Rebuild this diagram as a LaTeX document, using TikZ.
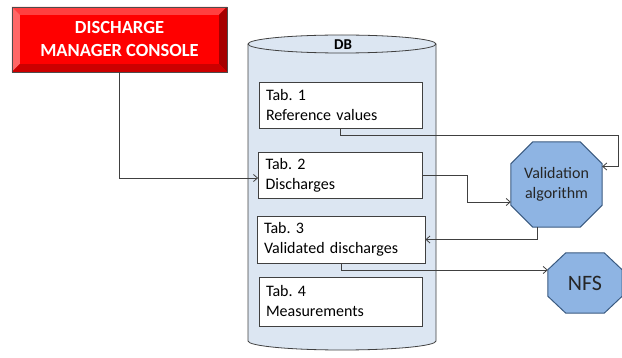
\documentclass[tikz,border=0pt]{standalone}
\usepackage{fontspec}
\setmainfont{Carlito}
\usetikzlibrary{arrows.meta,calc}
\definecolor{dbfill}{HTML}{DCE6F2}
\definecolor{octfill}{HTML}{8EB4E3}
\definecolor{octline}{HTML}{3A5A80}
\definecolor{linec}{HTML}{404040}
\frenchspacing
\begin{document}
\begin{tikzpicture}[x=1pt,y=-1pt,
  tabbox/.style={draw=linec,fill=white,line width=0.8pt,align=left,inner xsep=7pt,font=\fontsize{16}{20}\selectfont},
  conn/.style={draw=linec,line width=0.8pt,-{Straight Barb[length=4pt,width=7pt]}},
  octa/.style={draw=octline,fill=octfill,line width=1pt},
  octtext/.style={align=center,text=black!85},
]
\useasboundingbox (0,0) rectangle (622,358);
% Console with bevel
\node[minimum width=215pt,minimum height=65pt,inner sep=0pt] (con) at (119.5,39.5) {};
\fill[red] (con.north west) rectangle (con.south east);
\fill[red!75!white] (con.north west) -- (con.north east) -- ++(-8,8) -- ($(con.north west)+(8,8)$) -- cycle;
\fill[red!60!white] (con.north west) -- (con.south west) -- ++(8,-8) -- ($(con.north west)+(8,8)$) -- cycle;
\fill[red!65!black] (con.north east) -- (con.south east) -- ++(-8,-8) -- ($(con.north east)+(-8,8)$) -- cycle;
\fill[red!80!black] (con.south west) -- (con.south east) -- ++(-8,-8) -- ($(con.south west)+(8,-8)$) -- cycle;
\draw[gray!60!black,line width=0.5pt] (con.north west) rectangle (con.south east);
\node[text=white,font=\fontsize{18.5}{23}\selectfont\bfseries,align=center] (contxt) at (con.center) {DISCHARGE\\MANAGER CONSOLE};
% Cylinder
\draw[linec,fill=dbfill,line width=0.8pt] (248,44) -- (248,341) arc[start angle=180,end angle=360,x radius=94pt,y radius=9pt] -- (436,44) arc[start angle=0,end angle=180,x radius=94pt,y radius=9pt] -- cycle;
\draw[linec,line width=0.8pt] (248,44) arc[start angle=180,end angle=360,x radius=94pt,y radius=9pt];
\node[font=\fontsize{15}{17}\selectfont\bfseries] (db) at (343,45) {DB};
% Tables
\node[tabbox,minimum width=163pt,minimum height=46pt,text width=149pt] (t1) at (340.5,105) {Tab. 1\\Reference values};
\node[tabbox,minimum width=164pt,minimum height=46pt,text width=150pt] (t2) at (340.5,175) {Tab. 2\\Discharges};
\node[tabbox,minimum width=168pt,minimum height=47pt,text width=154pt] (t3) at (341,239.5) {Tab. 3\\Validated discharges};
\node[tabbox,minimum width=163pt,minimum height=49pt,text width=149pt] (t4) at (340.5,301.5) {Tab. 4\\Measurements};
% Octagons
\node[minimum width=91pt,minimum height=85pt,inner sep=0pt] (va) at (556.5,184.5) {};
\draw[octa] ($(va.north west)+(22,0)$) -- ($(va.north east)+(-22,0)$) -- ($(va.north east)+(0,22)$) -- ($(va.south east)+(0,-22)$) -- ($(va.south east)+(-22,0)$) -- ($(va.south west)+(22,0)$) -- ($(va.south west)+(0,-22)$) -- ($(va.north west)+(0,22)$) -- cycle;
\node[octtext,font=\fontsize{16}{20}\selectfont] (vatxt) at (va.center) {Validation\\algorithm};
\node[minimum width=74pt,minimum height=60pt,inner sep=0pt] (nfs) at (585,283) {};
\draw[octa] ($(nfs.north west)+(18,0)$) -- ($(nfs.north east)+(-18,0)$) -- ($(nfs.north east)+(0,17)$) -- ($(nfs.south east)+(0,-17)$) -- ($(nfs.south east)+(-18,0)$) -- ($(nfs.south west)+(18,0)$) -- ($(nfs.south west)+(0,-17)$) -- ($(nfs.north west)+(0,17)$) -- cycle;
\node[octtext,font=\fontsize{22}{26}\selectfont] (nfstxt) at (nfs.center) {NFS};
% Connectors
\coordinate (c1) at (618,135);
\coordinate (c2) at (467,202);
\draw[conn] (con.south) |- ([yshift=-3pt]t2.west);
\draw[conn] (t1.south) |- (c1) |- ([yshift=18pt]va.east);
\draw[conn] (t2.east) -| (c2) -- ([yshift=-17.5pt]va.west);
\draw[conn] ([xshift=-19.5pt]va.south) |- (t3.east);
\draw[conn] (t3.south) |- ([yshift=13pt]nfs.west);
\end{tikzpicture}
\end{document}
